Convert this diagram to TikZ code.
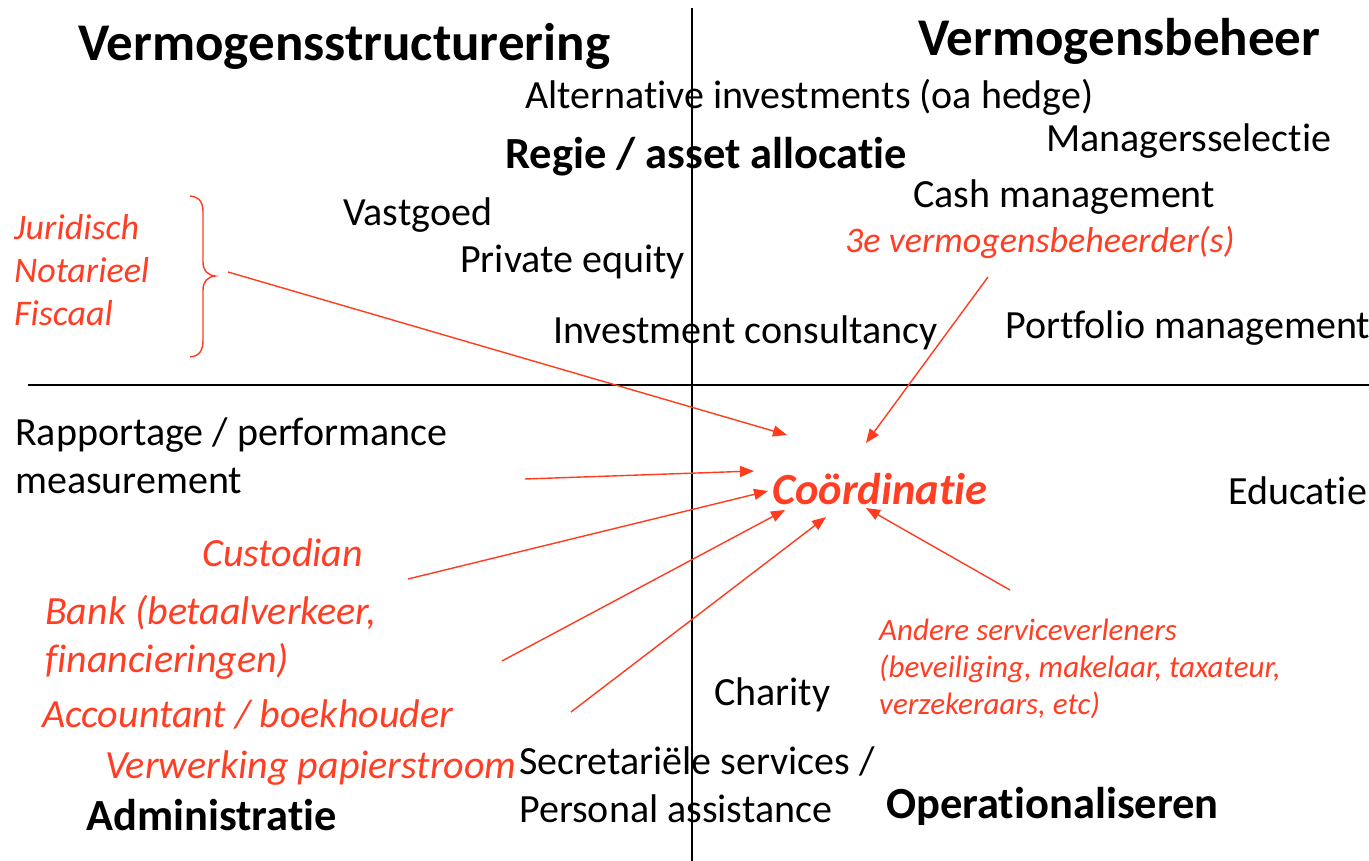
\documentclass[tikz,border=0pt]{standalone}
\usepackage{fontspec}
\setmainfont{Carlito}[Ligatures={NoCommon,TeX}]
\usetikzlibrary{arrows.meta}
\definecolor{rd}{RGB}{255,62,36}
\definecolor{rdline}{RGB}{255,60,30}
\tikzset{
  txt/.style={anchor=west,inner sep=0pt,font=\fontsize{40}{48}\selectfont,align=left},
  head/.style={anchor=west,inner sep=0pt,font=\fontsize{53}{60}\bfseries\selectfont},
  sub/.style={anchor=west,inner sep=0pt,font=\fontsize{44.5}{50}\bfseries\selectfont},
  red/.style={anchor=west,inner sep=0pt,text=rd,font=\fontsize{40}{48}\itshape\selectfont,align=left},
  redsmall/.style={red,font=\fontsize{36}{43}\itshape\selectfont},
  axis/.style={line width=2.2pt,black},
  arr/.style={rdline,line width=1.4pt,-{Triangle[length=14pt,width=11pt]}}
}
\begin{document}
\begin{tikzpicture}[x=1pt,y=-1pt]
\useasboundingbox[fill=white] (0,0) rectangle (1369,861);
% axes
\coordinate (vt) at (692,8); \coordinate (vb) at (692,861);
\coordinate (hl) at (28,385); \coordinate (hr) at (1369,385);
\draw[axis] (vt) -- (vb);
\draw[axis] (hl) -- (hr);
% headings
\node[head] (h1) at (78,46) {Vermogensstructurering};
\node[head] (h2) at (918,41) {Vermogensbeheer};
\node[sub] (regie) at (505,157) {Regie / asset allocatie};
\node[sub] (admin) at (86,815) {Administratie};
\node[sub] (oper) at (886,806) {Operationaliseren};
% black texts
\node[txt] (alt) at (525,97) {Alternative investments (oa hedge)};
\node[txt] (mgr) at (1046,141) {Managersselectie};
\node[txt] (cash) at (913,197) {Cash management};
\node[txt] (vast) at (343,215) {Vastgoed};
\node[txt] (pe) at (460,262) {Private equity};
\node[txt] (ic) at (553,333) {Investment consultancy};
\node[txt] (pm) at (1005,328) {Portfolio management};
\node[txt] (rap) at (15,456) {Rapportage / performance\\measurement};
\node[txt] (edu) at (1228,491) {Educatie};
\node[txt] (char) at (714,695) {Charity};
\node[txt] (sec) at (519,785) {Secretariële services /\\Personal assistance};
% red texts
\node[redsmall] (jur) at (14,270) {Juridisch\\Notarieel\\Fiscaal};
\node[redsmall] (third) at (845,242) {3e vermogensbeheerder(s)};
\node[red,font=\fontsize{44.5}{50}\bfseries\itshape\selectfont] (coord) at (772,489) {Coördinatie};
\node[red] (cust) at (202,553) {Custodian};
\node[red] (bank) at (45,637) {Bank (betaalverkeer,\\financieringen)};
\node[red] (acc) at (42,714) {Accountant / boekhouder};
\node[red] (verw) at (105,768) {Verwerking papierstroom};
\node[red,font=\fontsize{31}{37}\itshape\selectfont] (andere) at (879,669) {Andere serviceverleners\\(beveiliging, makelaar, taxateur,\\verzekeraars, etc)};
% brace
\draw[rdline,line width=1.4pt] (190,196) .. controls (200,197) and (203,203) .. (203,212)
  -- (203,262) .. controls (203,270) and (207,275) .. (215,276)
  .. controls (207,277) and (203,282) .. (203,290)
  -- (203,340) .. controls (203,350) and (200,356) .. (190,357);
% arrow endpoints
\coordinate (s1) at (228,272); \coordinate (e1) at (787,435);
\coordinate (s2) at (988,277); \coordinate (e2) at (866,443);
\coordinate (s3) at (525,479); \coordinate (e3) at (754,471);
\coordinate (s4) at (408,579); \coordinate (e4) at (768,491);
\coordinate (s5) at (502,661); \coordinate (e5) at (785,510);
\coordinate (s6) at (571,712); \coordinate (e6) at (826,517);
\coordinate (s7) at (1010,590); \coordinate (e7) at (866,508);
\foreach \i in {1,...,7} { \draw[arr] (s\i) -- (e\i); }
\end{tikzpicture}
\end{document}
